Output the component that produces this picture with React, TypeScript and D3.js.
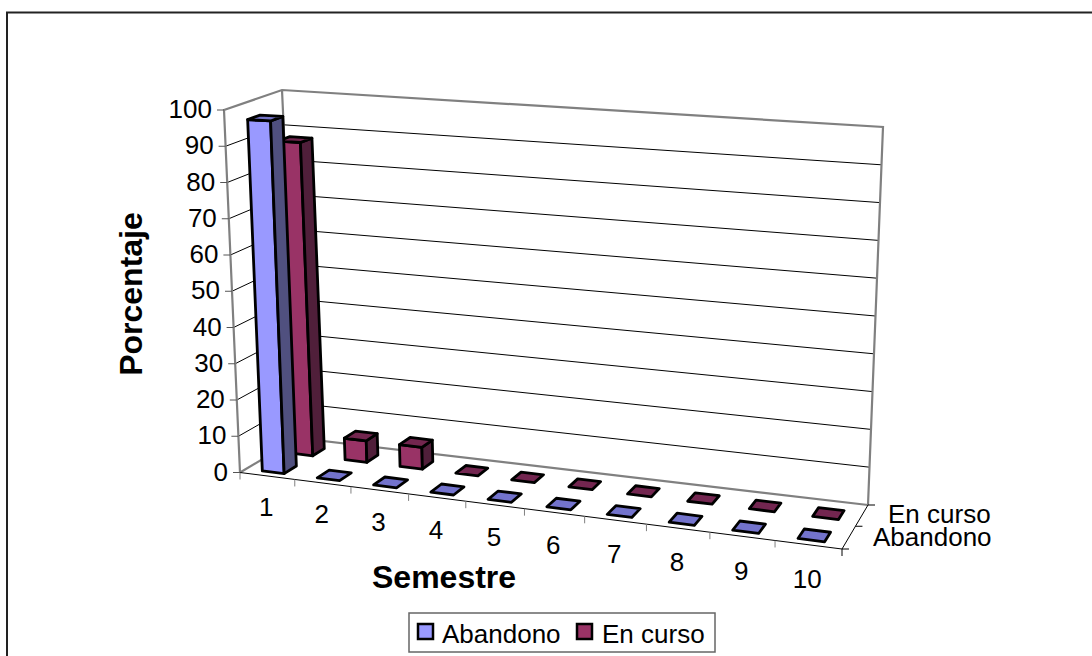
import React from "react";
import * as d3 from "d3";

const categories = ["1", "2", "3", "4", "5", "6", "7", "8", "9", "10"];
const seriesNames = ["Abandono", "En curso"];
const abandono = [97, 0, 0, 0, 0, 0, 0, 0, 0, 0];
const enCurso = [88, 6, 6, 0, 0, 0, 0, 0, 0, 0];
const valueTicks = [0, 10, 20, 30, 40, 50, 60, 70, 80, 90, 100];
const fills = ["#9999FF", "#993366"];
const sides = ["#50507F", "#501F3A"];
const tops = ["#7373C6", "#73264F"];

type P = [number, number];
type Q = [P, P, P, P];
// unit square -> quad homography (order: u0d0, u1d0, u1d1, u0d1)
function homography(q: Q) {
  const [[x0, y0], [x1, y1], [x2, y2], [x3, y3]] = q;
  const dx1 = x1 - x2, dx2 = x3 - x2, sx = x0 - x1 + x2 - x3;
  const dy1 = y1 - y2, dy2 = y3 - y2, sy = y0 - y1 + y2 - y3;
  const den = dx1 * dy2 - dx2 * dy1;
  const g = (sx * dy2 - dx2 * sy) / den;
  const h = (dx1 * sy - sx * dy1) / den;
  const a = x1 - x0 + g * x1, b = x3 - x0 + h * x3;
  const d = y1 - y0 + g * y1, e = y3 - y0 + h * y3;
  return (u: number, v: number): P => {
    const w = g * u + h * v + 1;
    return [(a * u + b * v + x0) / w, (d * u + e * v + y0) / w];
  };
}
const floorH = homography([[240, 472.5], [842, 549], [868, 505], [298, 438]]);
// bottom-to-top vector of the four corners of the floor
const leanFL: P = [-16, -362.5];
const leanFR: P = [16, -404];
const leanBR: P = [15, -378];
const leanBL: P = [-16, -348];

const uScale = d3.scaleLinear().domain([0, 3, 10]).range([0, 0.307, 1]);
const vScale = d3.scaleLinear().domain([0, 100]).range([0, 1]);
const dScale = d3.scaleLinear().domain([0, 2]).range([0, 1]);

function pt(cat: number, depth: number, value: number): P {
  const u = uScale(cat), dd = dScale(depth), v = vScale(value);
  const a = floorH(u, dd);
  const l = floorH(0, dd), r = floorH(1, dd);
  const s = (a[0] - l[0]) / (r[0] - l[0]);
  const lean = [0, 1].map((i) => {
    const f = leanFL[i] + (leanFR[i] - leanFL[i]) * s;
    const b = leanBL[i] + (leanBR[i] - leanBL[i]) * s;
    return f + (b - f) * dd;
  });
  return [a[0] + lean[0] * v, a[1] + lean[1] * v];
}
const poly = (ps: P[]) => ps.map((p) => p.map((n) => n.toFixed(2)).join(",")).join(" ");
const lineGen = d3.line<P>();

const BAR_W = 0.4;
const BAR_D = 0.42;
const rowFront = [0.2, 1.2];

function Bar({ cat, row, value }: { cat: number; row: number; value: number }) {
  const u0 = cat + 0.5 - BAR_W / 2, u1 = cat + 0.5 + BAR_W / 2;
  const d0 = rowFront[row], d1 = d0 + BAR_D;
  const a = pt(u0, d0, 0), b = pt(u1, d0, 0), c = pt(u1, d1, 0);
  const e = pt(u0, d0, value), f = pt(u1, d0, value), g = pt(u1, d1, value), h = pt(u0, d1, value);
  const s = { stroke: "#000", strokeWidth: 2.8, strokeLinejoin: "round" as const };
  return (
    <g>
      {value > 0 && <polygon points={poly([a, b, f, e])} fill={fills[row]} {...s} />}
      {value > 0 && <polygon points={poly([b, c, g, f])} fill={sides[row]} {...s} />}
      <polygon points={poly([e, f, g, h])} fill={value > 0 ? tops[row] : row === 0 ? "#7373CC" : "#732650"} {...s} />
    </g>
  );
}

const FONT = "'Liberation Sans', Arial, sans-serif";

export default function App() {
  const gray = { stroke: "#808080", strokeWidth: 2.2, fill: "none" };
  const thin = { stroke: "#000", strokeWidth: 1, fill: "none" };
  return (
    <svg width={1092} height={656} style={{ position: "absolute", left: 0, top: 0, background: "#fff" }} fontFamily={FONT}>
      <path d="M7,656 V12.5 H1092" fill="none" stroke="#222" strokeWidth={2} />
      {/* gridlines */}
      {valueTicks.slice(1, -1).map((v) => (
        <path key={v} d={lineGen([pt(0, 0, v), pt(0, 2, v), pt(10, 2, v)]) ?? ""} {...thin} />
      ))}
      {/* wall outlines */}
      <path d={lineGen([pt(0, 0, 0), pt(0, 0, 100), pt(0, 2, 100), pt(10, 2, 100), pt(10, 2, 0)]) ?? ""} {...gray} />
      <path d={lineGen([pt(0, 2, 100), pt(0, 2, 0), pt(10, 2, 0)]) ?? ""} {...gray} />
      <path d={lineGen([pt(0, 0, 0), pt(0, 2, 0)]) ?? ""} {...gray} />
      {/* floor front and side */}
      <path d={lineGen([pt(0, 0, 0), pt(10, 0, 0), pt(10, 2, 0)]) ?? ""} {...thin} />
      {categories.map((_, i) => {
        const p = pt(i, 0, 0);
        return <line key={i} x1={p[0]} y1={p[1]} x2={p[0]} y2={p[1] + 7} stroke="#808080" strokeWidth={1} />;
      })}
      {(() => {
        const p = pt(10, 0, 0);
        return <line x1={p[0]} y1={p[1]} x2={p[0]} y2={p[1] + 7} stroke="#000" strokeWidth={1} />;
      })()}
      {[0, 1, 2].map((d) => {
        const p = pt(10, d, 0);
        return <line key={d} x1={p[0]} y1={p[1]} x2={p[0] + 7} y2={p[1]} stroke="#000" strokeWidth={1} />;
      })}
      {valueTicks.map((v) => {
        const p = pt(0, 0, v);
        return <line key={v} x1={p[0] - 7} y1={p[1]} x2={p[0]} y2={p[1]} stroke="#555" strokeWidth={1} />;
      })}
      {/* bars */}
      {enCurso.map((v, i) => <Bar key={"e" + i} cat={i} row={1} value={v} />)}
      {abandono.map((v, i) => <Bar key={"a" + i} cat={i} row={0} value={v} />)}
      {/* labels */}
      <g fontSize={26} fill="#000">
        {valueTicks.map((v) => {
          const p = pt(0, 0, v);
          return <text key={v} x={p[0] - 12} y={p[1] + 8} textAnchor="end">{v}</text>;
        })}
        {categories.map((c, i) => {
          const p = pt(i + 0.5, 0, 0);
          return <text key={c} x={p[0] - 1} y={p[1] + 40 + i * 0.4} textAnchor="middle">{c}</text>;
        })}
        <text x={888} y={523}>{seriesNames[1]}</text>
        <text x={873} y={546}>{seriesNames[0]}</text>
      </g>
      <text x={372} y={588} fontSize={32} fontWeight="bold">Semestre</text>
      <text transform="translate(142,294) rotate(-90)" fontSize={32} fontWeight="bold" textAnchor="middle">Porcentaje</text>
      {/* legend */}
      <rect x={409} y={613} width={306} height={39} fill="#fff" stroke="#666" strokeWidth={1.5} />
      <rect x={418} y={624} width={15} height={15} fill={fills[0]} stroke="#000" strokeWidth={2.5} />
      <rect x={577} y={624} width={15} height={15} fill={fills[1]} stroke="#000" strokeWidth={2.5} />
      <text x={442} y={643} fontSize={26}>{seriesNames[0]}</text>
      <text x={602} y={643} fontSize={26}>{seriesNames[1]}</text>
    </svg>
  );
}
